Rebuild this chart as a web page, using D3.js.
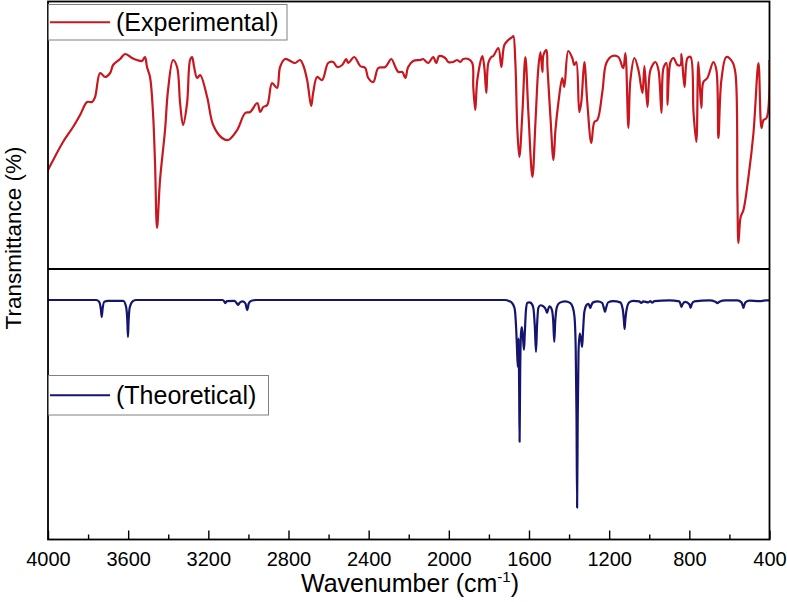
<!DOCTYPE html>
<html>
<head>
<meta charset="utf-8">
<script src="https://cdn.jsdelivr.net/npm/d3@7"></script>
<style>
  body { margin: 0; background: #fff; }
  text { font-family: Arial, "Liberation Sans", sans-serif; fill: #000; }
</style>
</head>
<body>
<svg width="787" height="602"></svg>
<script>
// experimental spectrum, [wavenumber, transmittance]
let expWave = [4000,3982,3925,3875,3840,3805,3780,3765,3740,3715,3690,3675,3640,3616,3581,3556,3531,3516,3506,3491,3476,3466,3456,3441,3416,3401,3376,3356,3341,3326,3306,3291,3281,3271,3256,3241,3206,3176,3131,3101,3056,3016,2991,2956,2941,2926,2906,2882,2857,2842,2817,2782,2767,2742,2727,2707,2687,2677,2657,2632,2602,2577,2557,2532,2512,2502,2472,2442,2417,2402,2377,2352,2317,2287,2267,2252,2232,2217,2203,2178,2143,2128,2103,2078,2063,2048,2018,2003,1978,1958,1943,1928,1903,1883,1878,1868,1858,1833,1823,1813,1803,1788,1778,1753,1738,1723,1703,1683,1678,1668,1658,1648,1633,1618,1603,1583,1568,1553,1543,1533,1528,1513,1508,1493,1478,1468,1453,1434,1424,1404,1384,1374,1364,1349,1339,1324,1309,1289,1274,1259,1234,1214,1184,1154,1134,1129,1119,1104,1094,1074,1054,1034,1024,1009,994,969,954,939,929,914,909,894,879,859,844,839,824,809,794,779,765,755,740,730,710,680,665,655,640,615,585,570,560,555,544,530,505,480,455,440,430,415,400];
let expT = [39.6,42.4,50.8,56.8,61.6,66.8,66.8,68.8,78.4,76.8,78.4,81.6,84,86,84.4,83.6,83.2,84.8,80.8,76.8,62.4,42.4,16.4,35.6,55.6,71.6,83.6,80.8,66.4,57.6,66.4,83.6,84.8,80.8,76.4,77.6,68.8,57.6,52.4,51.6,55.6,62.4,62.8,66.4,62.8,64.8,65.6,74.4,72.4,80.8,84,82.8,82.4,83.6,81.6,75.6,65.2,70.4,76.8,75.6,82.4,82.8,80.8,81.6,84,82.4,84.8,81.2,80.4,76.4,74.8,80.4,80.8,84,80.8,78.8,78.8,76.4,80.8,83.2,83.6,84,82.4,84.8,82.4,85.2,84.4,82.8,82.8,83.6,82.8,84,84,82.4,72.8,63.6,75.6,85.2,80.8,70.4,82.4,84.8,85.2,88.4,80.8,89.6,91.6,92.8,93.2,82.4,55.6,44.8,62.4,84.8,62.4,36.8,58.4,80.8,86.8,78.8,85.6,87.6,80.8,60.8,43.6,55.6,66.8,76.4,72.8,87.2,84.4,81.6,82.8,62.8,66.8,82.8,66.4,50.4,58.8,59.6,70.8,82.4,85.2,84.8,80.8,80.4,86.4,56.4,75.6,84.4,79.6,70.4,81.2,64.8,79.6,82.8,79.6,62.4,80.4,82.4,65.6,82.8,84.4,81.6,81.6,86,72.8,84.4,84.8,62.4,50.8,82.8,64.4,74.8,76.4,82.8,79.6,52.4,75.6,84.8,82.8,78.4,28.8,10.4,20.8,23.6,36.8,54.4,82.4,56.4,59.6,60.4,83.6];

// theoretical spectrum, [wavenumber, transmittance]
let theoWave = [4000,3760,3745,3736,3732,3728,3719,3700,3625,3610,3604,3601,3598,3592,3575,3560,3130,3120,3116,3108,3070,3058,3051,3044,3030,3015,3006,2998,2985,2960,1720,1700,1685,1672,1664,1660,1656,1652,1649,1647,1644,1640,1636,1630,1625,1621,1615,1608,1598,1588,1578,1571,1565,1560,1553,1542,1530,1516,1510,1505,1498,1486,1479,1474,1469,1461,1448,1420,1395,1382,1373,1367,1363,1360,1357,1353,1347,1341,1335,1331,1324,1314,1304,1298,1294,1289,1280,1258,1235,1226,1221,1216,1205,1180,1145,1132,1126,1123,1120,1113,1100,1080,1050,1040,1030,1005,995,985,975,900,850,843,839,835,820,800,794,788,775,700,670,660,650,620,560,540,533,530,527,520,500,450,420,400];
let theoT = [100,100,99.3,96,92.9,96,99.3,99.6,99.6,97,91,84.6,91,97,99.6,100,100,99.3,98.7,99.5,99.6,98.6,97.9,98.8,99.4,98.6,95.8,98.6,99.7,100,100,99.6,98.8,96.5,88,80,72.1,84,62,40.8,70,86,88.7,84,79.2,86,96,98.8,99,98.6,96.5,89,78.3,89,96.8,97.8,97.4,96,94.6,96,97.3,96,91,82.5,91,97,98.8,99.4,98.8,97,93,80,52,13.3,50,78,86,84,80.4,86,95,97.8,98.4,97.5,96.7,97.8,99,99.4,98.8,96.5,95,96.5,99,99.5,99,96,91,87.9,91,96,99,99.6,99.4,98.8,99.4,99,99.5,98.9,99.5,99.8,99.4,98,97.1,98,99.2,98.2,96.7,98.2,99.4,99.8,99.3,98.7,99.3,99.8,99.8,99,97.5,96.7,97.5,99,99.7,99.5,99.8,99.8];

let majorTicks = [4000,3600,3200,2800,2400,2000,1600,1200,800,400];
let minorTicks = [3800,3400,3000,2600,2200,1800,1400,1000,600];
let seriesNames = ["(Experimental)", "(Theoretical)"];
let seriesColors = ["#c8171e", "#15156f"];

let plotLeft = 48, plotRight = 769.5, plotTop = 1.5, plotBottom = 539.5, split = 269;

let svg = d3.select("svg");

let x = d3.scaleLinear().domain([4000, 400]).range([plotLeft, plotRight]);
let yTop = d3.scaleLinear().domain([0, 106.8]).range([split, 2]);
let yBot = d3.scaleLinear().domain([0, 112.1]).range([plotBottom, split + 2]);

let expData = expWave.map((w, i) => [w, expT[i]]);
let theoData = theoWave.map((w, i) => [w, theoT[i]]);

svg.append("clipPath").attr("id", "plotclip")
  .append("rect").attr("x", plotLeft).attr("y", plotTop)
  .attr("width", plotRight - plotLeft).attr("height", plotBottom - plotTop);

let plot = svg.append("g").attr("clip-path", "url(#plotclip)");

plot.append("path")
  .datum(expData)
  .attr("fill", "none")
  .attr("stroke", seriesColors[0])
  .attr("stroke-width", 2.2)
  .attr("stroke-linejoin", "round")
  .attr("d", d3.line().x(d => x(d[0])).y(d => yTop(d[1])).curve(d3.curveCatmullRom.alpha(0.5)));

plot.append("path")
  .datum(theoData)
  .attr("fill", "none")
  .attr("stroke", seriesColors[1])
  .attr("stroke-width", 2.2)
  .attr("stroke-linejoin", "round")
  .attr("d", d3.line().x(d => x(d[0])).y(d => yBot(d[1])).curve(d3.curveMonotoneX));

// axes
let xAxis = svg.append("g")
  .attr("transform", `translate(0, ${plotBottom})`)
  .call(d3.axisBottom(x).tickValues(majorTicks).tickSize(-9).tickPadding(12).tickFormat(d3.format("d")));
xAxis.select(".domain").remove();
xAxis.selectAll("line").attr("stroke", "#000").attr("stroke-width", 1.4);
xAxis.selectAll("text").attr("font-size", 20).attr("font-family", "Arial, 'Liberation Sans', sans-serif");

let xMinor = svg.append("g")
  .attr("transform", `translate(0, ${plotBottom})`)
  .call(d3.axisBottom(x).tickValues(minorTicks).tickSize(-5).tickFormat(""));
xMinor.select(".domain").remove();
xMinor.selectAll("line").attr("stroke", "#000").attr("stroke-width", 1.4);

// frame and divider
svg.append("rect")
  .attr("x", plotLeft).attr("y", plotTop)
  .attr("width", plotRight - plotLeft).attr("height", plotBottom - plotTop)
  .attr("fill", "none").attr("stroke", "#000").attr("stroke-width", 1.8);
svg.append("line")
  .attr("x1", plotLeft).attr("x2", plotRight).attr("y1", split).attr("y2", split)
  .attr("stroke", "#000").attr("stroke-width", 1.8);

// legends
let legendSpots = [{y: 4.5, h: 35.5, w: 238.5}, {y: 375.5, h: 39.5, w: 220}];
seriesNames.forEach((name, i) => {
  let s = legendSpots[i];
  let g = svg.append("g");
  g.append("rect")
    .attr("x", plotLeft + 0.5).attr("y", s.y).attr("width", s.w).attr("height", s.h)
    .attr("fill", "#fff").attr("stroke", "#808080").attr("stroke-width", 1);
  g.append("line")
    .attr("x1", 50).attr("x2", 110)
    .attr("y1", s.y + s.h / 2).attr("y2", s.y + s.h / 2)
    .attr("stroke", seriesColors[i]).attr("stroke-width", 2.2);
  g.append("text")
    .attr("x", 116).attr("y", s.y + s.h / 2 + 9)
    .attr("font-size", 25)
    .text(name);
});

// axis titles
let xt = svg.append("text")
  .attr("x", 410).attr("y", 592)
  .attr("text-anchor", "middle")
  .attr("font-size", 25);
xt.append("tspan").text("Wavenumber (cm");
xt.append("tspan").attr("font-size", 15).attr("dy", -10).text("-1");
xt.append("tspan").attr("dy", 10).text(")");

svg.append("text")
  .attr("transform", "translate(21, 238) rotate(-90)")
  .attr("text-anchor", "middle")
  .attr("font-size", 22.5)
  .text("Transmittance (%)");
</script>
</body>
</html>
